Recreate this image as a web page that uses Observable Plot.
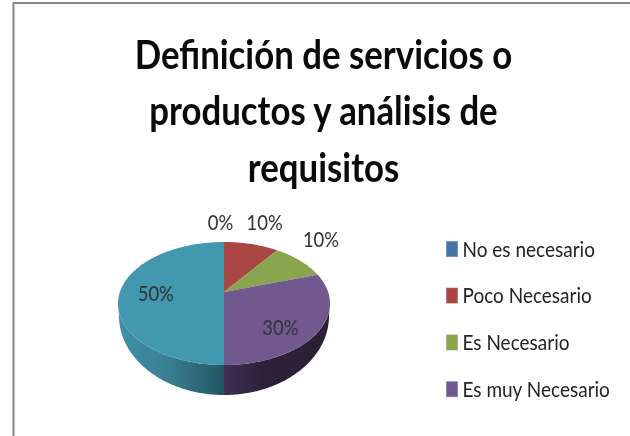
<!DOCTYPE html>
<html><head><meta charset="utf-8">
<script src="https://cdn.jsdelivr.net/npm/d3@7"></script>
<script src="https://cdn.jsdelivr.net/npm/@observablehq/plot@0.6"></script>
<style>html,body{margin:0;padding:0;background:#fff;overflow:hidden}svg{display:block;filter:blur(0.35px)}</style>
</head><body><div id="chart"></div>
<script>
const titleLines = ["Definición de servicios o", "productos y análisis de", "requisitos"];
const categories = ["No es necesario", "Poco Necesario", "Es Necesario", "Es muy Necesario", "Sin nombre"];
const values = [0, 10, 10, 30, 50];
const colors = ["#4572A7", "#AA4643", "#89A54E", "#71588F", "#4198AF"];
const legendCategories = categories.slice(0, 4);

// layout of the projected disc
const W = 630, H = 436, cx = 224, apexY = 292, A = 104.1, B = 59.35, k = 0.187;
const project = (t, rho = 1) => {
  const u = rho * Math.sin(t), v = rho * Math.cos(t), w = 1 + k * v;
  return [cx + A * u / w, apexY - B * v / w];
};
const total = d3.sum(values);
const arcs = d3.pie().sort(null).value(d => d)(values);
const deg = Math.PI / 180;

const faceRows = [];
arcs.forEach((a, i) => {
  if (a.endAngle <= a.startAngle) return;
  const n = Math.ceil((a.endAngle - a.startAngle) / deg);
  for (let j = 0; j <= n; j++) {
    const [x, y] = project(a.startAngle + (a.endAngle - a.startAngle) * j / n);
    faceRows.push({category: categories[i], x1: cx, y1: apexY, x2: x, y2: y});
  }
});

// wall of the disc: follows the slices that reach the front
const sideRows = [];
arcs.forEach((a, i) => {
  const from = Math.max(a.startAngle, Math.PI / 2), to = Math.min(a.endAngle, 3 * Math.PI / 2);
  if (to <= from) return;
  const n = Math.ceil((to - from) / deg);
  for (let j = 0; j <= n; j++) {
    const t = from + (to - from) * j / n;
    sideRows.push({category: categories[i],
      x1: cx + 106 * Math.sin(t), y1: 303.5 - 61.5 * Math.cos(t),
      x2: cx + 105 * Math.sin(t), y2: 316 - 79 * Math.cos(t)});
  }
});

const labelRho = [1.5, 1.5, 1.5, 0.66, 0.66];
const labelShift = [[-4, 0], [2, -3], [-12, -8], [-4, 11], [0, 2]];
const labelRows = arcs.map((a, i) => {
  const [x, y] = project((a.startAngle + a.endAngle) / 2, labelRho[i]);
  return {x: x + labelShift[i][0], y: y + labelShift[i][1], label: `${d3.format(".0f")(values[i] / total * 100)}%`};
});

const legendRows = legendCategories.map((c, i) => ({category: c, y: 249 + 46.7 * i}));

const gradient = () => {
  const svg = d3.create("svg:defs");
  const add = (id, x1, x2, stops) => {
    const g = svg.append("linearGradient").attr("id", id).attr("gradientUnits", "userSpaceOnUse")
      .attr("x1", x1).attr("x2", x2).attr("y1", 0).attr("y2", 0);
    stops.forEach(([o, c]) => g.append("stop").attr("offset", o).attr("stop-color", c));
  };
  add("sideTeal", 118, 224, [[0, "#3f90a9"], [0.45, "#3a8095"], [1, "#245662"]]);
  add("sidePurple", 224, 330, [[0, "#3f2f52"], [0.35, "#2d2239"], [1, "#2a2036"]]);
  return svg.node();
};

// the reference's lettering is condensed and tall: stretch each text node
const stretch = (sx, sy) => (index, scales, values, dims, ctx, next) => {
  const g = next(index, scales, values, dims, ctx);
  g.querySelectorAll("text").forEach(t => {
    t.setAttribute("transform", `${t.getAttribute("transform") || ""} scale(${sx},${sy})`);
  });
  return g;
};

const font = "Lato, 'Open Sans', sans-serif";
const chart = Plot.plot({
  width: W, height: H, margin: 0,
  x: {domain: [0, W], range: [0, W], axis: null},
  y: {domain: [0, H], range: [0, H], axis: null},
  color: {domain: categories, range: colors},
  style: {background: "#fff", fontFamily: font},
  marks: [
    gradient,
    Plot.ruleY([2.5], {x1: 13, x2: W, stroke: "#868686", strokeWidth: 2}),
    Plot.ruleX([13], {y1: 2, y2: H, stroke: "#868686", strokeWidth: 2}),
    Plot.text(titleLines, {
      x: 323, y: (d, i) => 55 + 56.5 * i, text: d => d,
      fontSize: 37, fontWeight: 700, fill: "#0a0a0a", textAnchor: "middle", lineAnchor: "middle",
      render: stretch(0.94, 1.1)
    }),
    Plot.area(sideRows.filter(d => d.category === categories[3]), {x1: "x1", y1: "y1", x2: "x2", y2: "y2", fill: "url(#sidePurple)"}),
    Plot.area(sideRows.filter(d => d.category === categories[4]), {x1: "x1", y1: "y1", x2: "x2", y2: "y2", fill: "url(#sideTeal)"}),
    Plot.area(faceRows, {x1: "x1", y1: "y1", x2: "x2", y2: "y2", z: "category", fill: "category"}),
    Plot.text(labelRows, {x: "x", y: "y", text: "label", fontSize: 19, fill: "#333", textAnchor: "middle", lineAnchor: "middle", render: stretch(0.97, 1.15)}),
    Plot.rect(legendRows, {x1: 446, x2: 458, y1: d => d.y - 8, y2: d => d.y + 8, fill: "category", stroke: "#dfe6ee", strokeWidth: 0.7}),
    Plot.text(legendRows, {x: 462, y: "y", text: "category", fontSize: 19, fill: "#222", textAnchor: "start", lineAnchor: "middle", render: stretch(1, 1.15)})
  ]
});
document.getElementById("chart").append(chart);
</script></body></html>
